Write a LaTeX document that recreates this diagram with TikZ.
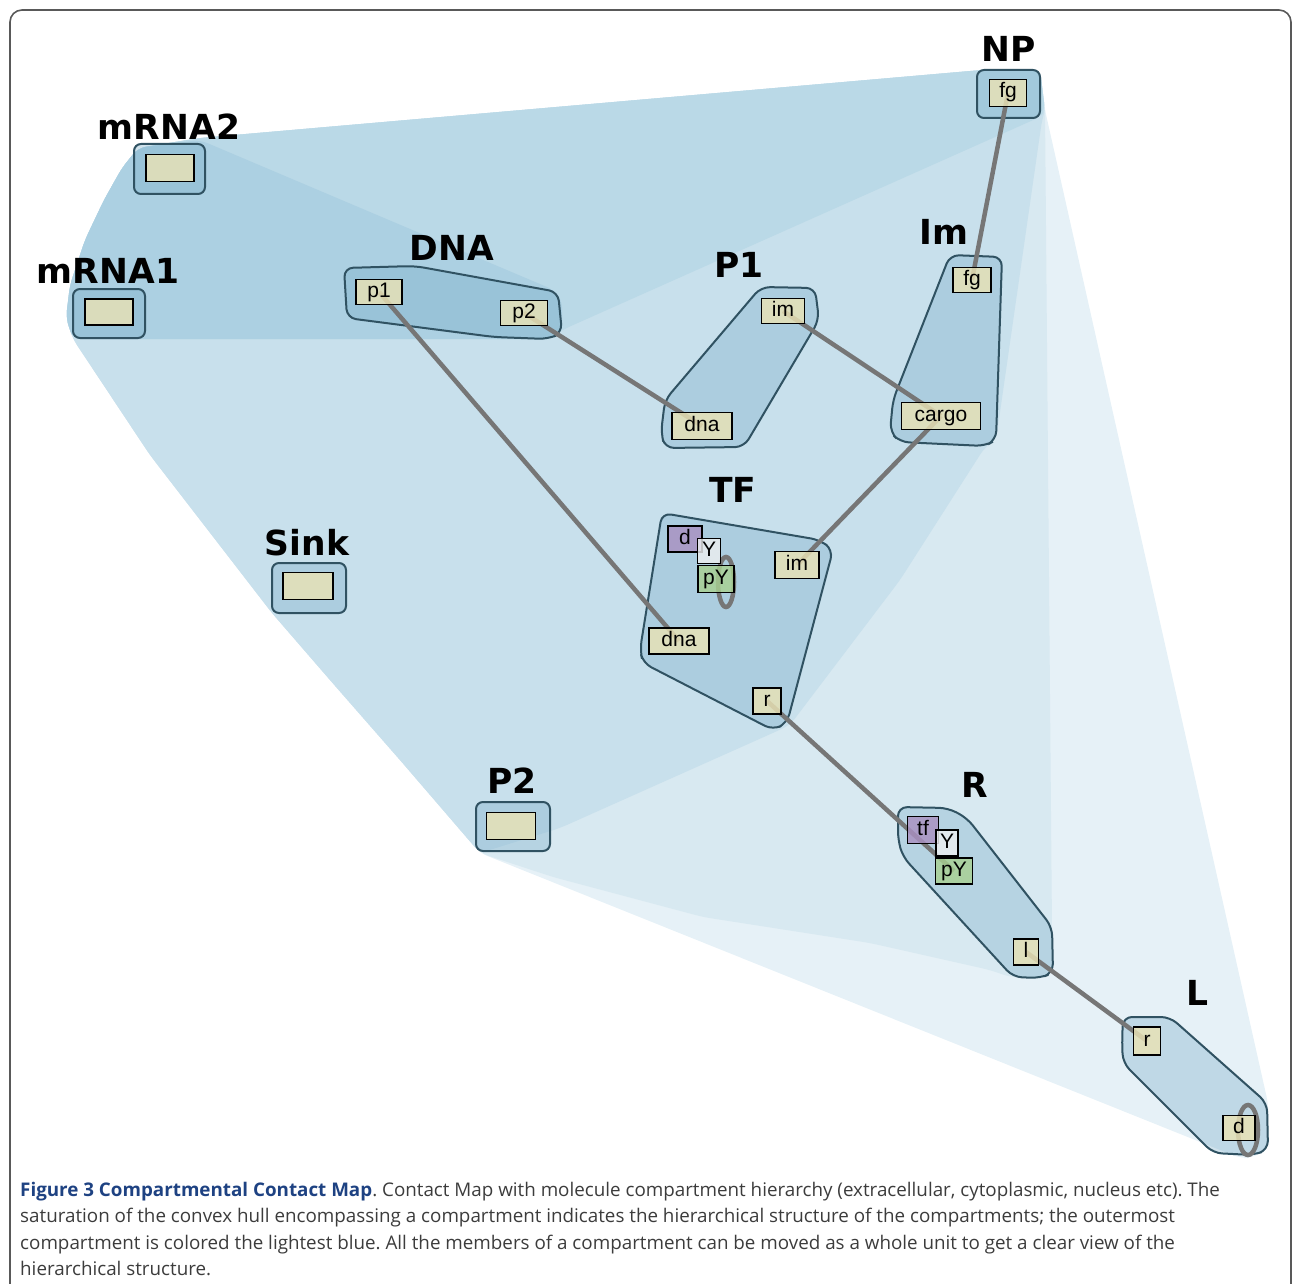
\documentclass[tikz,border=0pt]{standalone}
\usepackage{fontspec}
\setmainfont{DejaVu Sans}
\newfontfamily\sitefont{Liberation Sans}
\newfontfamily\capfont{Open Sans}
\usetikzlibrary{calc}

\pgfdeclarelayer{hulls}
\pgfdeclarelayer{bonds}
\pgfsetlayers{hulls,bonds,main}

\definecolor{hullA}{RGB}{230,241,247}
\definecolor{hullB}{RGB}{216,233,241}
\definecolor{hullC}{RGB}{200,224,236}
\definecolor{hullD}{RGB}{186,217,231}
\definecolor{hullE}{RGB}{172,208,226}
\definecolor{cmpfill}{RGB}{120,172,200}
\definecolor{cmpline}{RGB}{48,82,98}
\definecolor{sitefill}{RGB}{233,226,181}
\definecolor{sitepurple}{RGB}{169,144,193}
\definecolor{sitewhite}{RGB}{236,238,240}
\definecolor{sitegreen}{RGB}{168,208,146}
\definecolor{bondgray}{RGB}{118,118,118}
\definecolor{capblue}{RGB}{30,66,130}
\definecolor{captext}{RGB}{60,60,60}

\tikzset{
  site/.style={draw=black, line width=1.2pt, fill=sitefill, fill opacity=0.82,
    text opacity=1, inner sep=0pt, minimum height=26pt,
    text height=14pt, text depth=4pt,
    font=\sitefont\fontsize{21}{21}\selectfont},
  cmp/.style={draw=cmpline, line width=2pt, fill=cmpfill, fill opacity=0.35,
    rounded corners=9pt},
  bond/.style={draw=bondgray, line width=4.5pt},
  lbl/.style={font=\fontsize{34.5}{34.5}\selectfont\bfseries}
}

\begin{document}
\frenchspacing
\begin{tikzpicture}[x=1pt, y=-1pt]

  \useasboundingbox (0,0) rectangle (1293,1284);

  % --- frame ---
  \draw[line width=1.6pt, gray!70!black, rounded corners=12pt]
    (10,1320) -- (10,10) -- (1291,10) -- (1291,1320);

  \begin{pgfonlayer}{hulls}
  % --- outermost hull (everything) ---
  \fill[hullA, rounded corners=8pt]
    (73,339) -- (66,318) -- (70,285) -- (85,240) -- (104,200) -- (122,168)
    -- (138,148) -- (200,138) -- (982,70) -- (1040,70) -- (1045,110)
    -- (1268,1103) -- (1269,1148) -- (1252,1158) -- (1240,1158)
    -- (480,853) -- (400,760) -- (330,680) -- (272,613) -- (150,455)
    -- cycle;

  % --- hull without L ---
  \fill[hullB, rounded corners=8pt]
    (73,339) -- (66,318) -- (70,285) -- (85,240) -- (104,200) -- (122,168)
    -- (138,148) -- (200,138) -- (982,70) -- (1040,70) -- (1045,110)
    -- (1052,930) -- (1053,972) -- (1040,978) -- (1010,977) -- (990,970)
    -- (870,943) -- (703,917) -- (553,877)
    -- (480,853) -- (400,760) -- (330,680) -- (272,613) -- (150,455)
    -- cycle;

  % --- hull without R and L ---
  \fill[hullC, rounded corners=8pt]
    (73,339) -- (66,318) -- (70,285) -- (85,240) -- (104,200) -- (122,168)
    -- (138,148) -- (200,138) -- (982,70) -- (1040,70) -- (1045,110)
    -- (1042,120) -- (996,440) -- (985,447) -- (900,580) -- (790,725)
    -- (775,732) -- (560,828)
    -- (480,853) -- (400,760) -- (330,680) -- (272,613) -- (150,455)
    -- cycle;

  % --- hull of mRNA1, mRNA2, DNA, NP ---
  \fill[hullD, rounded corners=8pt]
    (73,339) -- (66,318) -- (70,285) -- (85,240) -- (104,200) -- (122,168)
    -- (138,148) -- (200,138) -- (982,70) -- (1040,70) -- (1045,110)
    -- (1040,117) -- (562,330) -- (550,339) -- cycle;

  % --- hull of mRNA1, mRNA2, DNA ---
  \fill[hullE, rounded corners=8pt]
    (73,339) -- (66,318) -- (70,285) -- (85,240) -- (104,200) -- (122,168)
    -- (138,148) -- (200,140) -- (554,290) -- (562,300) -- (562,330)
    -- (550,339) -- cycle;

  % --- compartments ---
  \draw[cmp, rounded corners=7pt] (73,289) rectangle (145,338);
  \draw[cmp, rounded corners=7pt] (134,144) rectangle (205,194);
  \draw[cmp, rounded corners=7pt] (272,563) rectangle (346,613);
  \draw[cmp, rounded corners=7pt] (476,802) rectangle (550,851);
  \draw[cmp, rounded corners=7pt] (977,70) rectangle (1040,118);
  \draw[cmp] (344,268) -- (415,266) -- (558,292) -- (562,333) -- (548,339)
    -- (494,337) -- (347,318) -- cycle;
  \draw[cmp] (761,287) -- (815,288) -- (819,320) -- (744,447) -- (665,448)
    -- (661,433) -- (665,400) -- cycle;
  \draw[cmp] (950,255) -- (1002,257) -- (996,440) -- (985,446) -- (900,442)
    -- (890,432) -- (893,400) -- cycle;
  \draw[cmp] (662,513) -- (820,540) -- (833,550) -- (787,723) -- (773,730)
    -- (643,663) -- (640,650) -- cycle;
  \draw[cmp] (898,807) -- (948,808) -- (967,818) -- (1052,927) -- (1053,973)
    -- (1040,978) -- (1013,977) -- (903,857) -- (898,840) -- cycle;
  \draw[cmp] (1123,1017) -- (1170,1017) -- (1267,1103) -- (1268,1150)
    -- (1253,1155) -- (1213,1153) -- (1123,1063) -- (1122,1043) -- cycle;
  \end{pgfonlayer}

  % --- compartment names ---
  \node[lbl] (mrna2Lbl) at (169,127) {mRNA2};
  \node[lbl] (mrna1Lbl) at (108,271) {mRNA1};
  \node[lbl] (dnaLbl)   at (452,248) {DNA};
  \node[lbl] (p1Lbl)    at (739,265) {P1};
  \node[lbl] (imLbl)    at (944,232) {Im};
  \node[lbl] (npLbl)    at (1009,49) {NP};
  \node[lbl] (tfLbl)    at (733,490) {TF};
  \node[lbl] (sinkLbl)  at (307,543) {Sink};
  \node[lbl] (p2Lbl)    at (512,781) {P2};
  \node[lbl] (rLbl)     at (975,785) {R};
  \node[lbl] (lLbl)     at (1197,993) {L};

  % --- sites ---
  \node[site, minimum width=48pt] (mrna1S) at (109,312) {};
  \node[site, minimum width=48pt, minimum height=27pt] (mrna2S) at (170,168) {};
  \node[site, minimum width=50pt, minimum height=27pt] (sinkS) at (308,586) {};
  \node[site, minimum width=49pt, minimum height=27pt] (p2S) at (511,826) {};
  \node[site, minimum width=37pt, minimum height=27pt] (npFg) at (1008,93) {fg};
  \node[site, minimum width=46pt, minimum height=25pt] (dnaP1) at (379,292) {p1};
  \node[site, minimum width=47pt, minimum height=25pt] (dnaP2) at (524,313) {p2};
  \node[site, minimum width=43pt, minimum height=25pt] (p1Im) at (783,311) {im};
  \node[site, minimum width=60pt, minimum height=27pt] (p1Dna) at (702,426) {dna};
  \node[site, minimum width=38pt, minimum height=25pt] (imFg) at (972,280) {fg};
  \node[site, minimum width=79pt, minimum height=27pt] (imCargo) at (941,416) {cargo};
  \node[site, minimum width=34pt, fill=sitepurple] (tfD) at (685,539) {d};
  \node[site, minimum width=23pt, minimum height=25pt, fill=sitewhite] (tfY) at (709,551) {Y};
  \node[site, minimum width=36pt, minimum height=27pt, fill=sitegreen] (tfPY) at (716,579) {pY};
  \node[site, minimum width=44pt, minimum height=27pt] (tfIm) at (797,565) {im};
  \node[site, minimum width=60pt] (tfDna) at (679,641) {dna};
  \node[site, minimum width=28pt] (tfR) at (767,701) {r};
  \node[site, minimum width=31pt, minimum height=27pt, fill=sitepurple] (rTf) at (923,830) {tf};
  \node[site, minimum width=22pt, fill=sitewhite] (rY) at (947,843) {Y};
  \node[site, minimum width=37pt, fill=sitegreen] (rPY) at (954,871) {pY};
  \node[site, minimum width=25pt] (rL) at (1026,952) {l};
  \node[site, minimum width=27pt, minimum height=28pt] (lR) at (1147,1041) {r};
  \node[site, minimum width=32pt, minimum height=25pt] (lD) at (1239,1128) {d};

  % --- bonds ---
  \begin{pgfonlayer}{bonds}
  \draw[bond] (dnaP1.center) -- (tfDna.center);
  \draw[bond] (dnaP2.center) -- (p1Dna.center);
  \draw[bond] (p1Im.center) -- (imCargo.center);
  \draw[bond] (npFg.center) -- (imFg.center);
  \draw[bond] (imCargo.center) -- (tfIm.center);
  \draw[bond] (tfR.center) -- (rPY.center);
  \draw[bond] (rL.center) -- (lR.center);
  \draw[bond] ($(tfPY.center)+(10,3)$) ellipse (8 and 25);
  \draw[bond] ($(lD.center)+(9,2)$) ellipse (10 and 25);
  \end{pgfonlayer}

  % --- caption ---
  \node[anchor=north west, align=left, inner sep=0pt, text=captext,
        font=\capfont\fontsize{18.8}{26.3}\selectfont] (caption) at (20,1182)
    {\textcolor{capblue}{\bfseries Figure 3 Compartmental Contact Map}. Contact Map with molecule compartment hierarchy (extracellular, cytoplasmic, nucleus etc). The\\
     saturation of the convex hull encompassing a compartment indicates the hierarchical structure of the compartments; the outermost\\
     compartment is colored the lightest blue. All the members of a compartment can be moved as a whole unit to get a clear view of the\\
     hierarchical structure.};

\end{tikzpicture}
\end{document}
